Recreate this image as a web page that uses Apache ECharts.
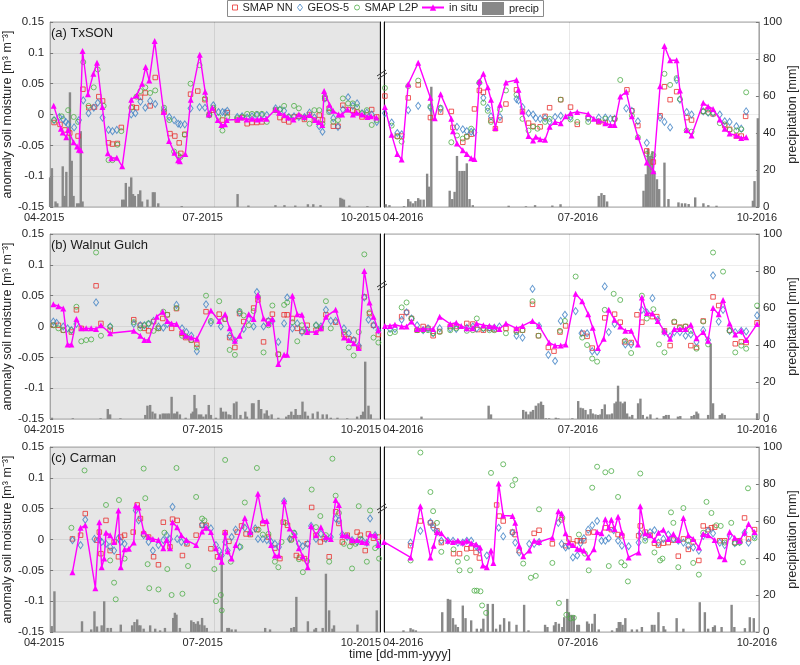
<!DOCTYPE html>
<html><head><meta charset="utf-8">
<script src="https://cdn.jsdelivr.net/npm/echarts@6/dist/echarts.min.js"></script>
<style>html,body{margin:0;padding:0;background:#fff}#c{width:800px;height:665px}</style>
</head><body><div id="c"></div>
<script>
// ---------- x tick labels (days since 1 April of each year) ----------
const xLabL = ['04-2015','07-2015','10-2015'];
const xLabR = ['04-2016','07-2016','10-2016'];
const xLabPosL = [0, 84.7, 172.4];
const xLabPosR = [-0.4, 95.6, 193.9];
const julyDay = 91;
const panelNames = ['(a) TxSON','(b) Walnut Gulch','(c) Carman'];

// ---------- Panel (a) TxSON, 2015 ----------
const aL_insitu = [[2,0.014],[6,-0.023],[7,-0.029],[9,-0.037],[10,-0.025],[13,-0.045],[15,-0.052],[16,-0.057],[17,-0.058],[18,0.103],[21,0.033],[24,0.066],[26,0.084],[29,0.012],[32,-0.063],[34,-0.071],[37,-0.07],[40,-0.084],[45,0.024],[48,0.031],[51,0.05],[53,0.077],[55,0.055],[58,0.119],[63,0.004],[66,-0.043],[69,-0.062],[71,-0.074],[72,-0.076],[75,-0.064],[78,0.024],[83,0.097],[86,0.037],[88,0],[90,0.011],[93,-0.009],[95,-0.017],[97,-0.016],[98,-0.009],[104,-0.008],[106,-0.005],[109,-0.008],[112,-0.007],[115,-0.008],[117,-0.007],[120,-0.007],[125,0.008],[127,0.003],[130,-0.001],[132,-0.005],[135,-0.008],[138,0],[141,-0.004],[144,-0.001],[147,-0.009],[149,-0.012],[151,-0.017],[152,0.038],[155,0.016],[157,0.006],[160,0],[162,0],[165,0.008],[168,0],[170,0.003],[173,0],[176,-0.004],[178,-0.003],[181,-0.005]];
const aL_nn = [[2.2,-0.013],[5.5,-0.016],[8.2,-0.025],[10.9,-0.03],[15.5,-0.035],[18.2,0.041],[21.5,0.011],[24.6,0.012],[27,0.029],[29.1,0.022],[32.4,-0.046],[34.6,-0.048],[37.3,-0.047],[39.5,-0.021],[45.6,0.012],[47.9,0.011],[50.1,0.028],[52.8,0.035],[55.5,0.014],[58.3,0.06],[63.2,0.004],[66.5,-0.031],[69.2,-0.035],[71.6,-0.046],[72.5,-0.063],[74.7,-0.032],[77.9,0.033],[81.9,0.038],[85.9,0.024],[88.3,0],[90.5,0.007],[95.6,-0.009],[98.3,0.003],[103.8,-0.009],[106.5,-0.005],[109.3,-0.015],[112,-0.013],[114.7,-0.013],[117.5,-0.012],[125.1,0.007],[127.5,-0.005],[129.8,-0.009],[132.4,-0.012],[135.3,-0.004],[138,-0.003],[141.1,-0.008],[143.9,0],[146.6,-0.009],[149.3,-0.001],[151.1,-0.009],[152.4,0.026],[154.8,0.01],[157.1,-0.019],[159.7,-0.019],[162.4,0.015],[165.3,0.008],[167.9,0.007],[170.3,0.004],[173,-0.004],[175.7,-0.001],[178.4,0.008],[181.2,-0.004]];
const aL_geos = [[2.2,-0.009],[5.1,-0.004],[7.3,-0.008],[8.7,-0.012],[10,-0.016],[13.3,-0.021],[16,-0.009],[18.4,0.023],[21.3,0.002],[24.2,0.011],[26.4,0.019],[29.1,-0.005],[32.4,-0.025],[34.6,-0.027],[37,-0.025],[45,0],[47.3,0.002],[50.1,0.021],[52.8,0.011],[55.5,0.022],[58.3,0.017],[63.2,0.007],[66.1,-0.004],[68.8,-0.009],[71,-0.015],[72.3,-0.016],[74.7,-0.016],[77.9,0.01],[82.9,0.012],[85.9,0.011],[88.3,0],[90.5,0.015],[93.4,0.004],[95.6,0.004],[97.1,0.003],[98.3,0.006],[103.8,-0.004],[106.5,-0.003],[109.3,-0.005],[112,-0.003],[114.7,-0.001],[117.5,-0.001],[120.2,-0.001],[125.1,0.01],[127.5,0.008],[129.8,0.006],[132.4,-0.004],[135.3,-0.003],[138,-0.004],[141.1,-0.004],[143.9,0.003],[146.6,-0.005],[149.3,-0.019],[151.1,-0.028],[152.4,0.026],[154.8,0.007],[157.1,-0.006],[159.7,-0.02],[162.4,0.008],[165.3,0.028],[167.9,0.014],[170.3,0.018],[173,0.002],[175.7,0.003],[178.4,0],[181.2,-0.012]];
const aL_l2p = [[2.2,-0.009],[6.4,-0.003],[10,0.007],[13.1,-0.004],[15.5,-0.012],[18.4,0.085],[21.3,0.014],[24.2,0.044],[26.4,0.073],[29.7,0.014],[32.4,-0.074],[34.6,-0.074],[37.3,-0.049],[39.5,-0.027],[45,0.011],[47.9,0.029],[50.1,0.038],[52.8,0.044],[55.5,0.035],[58.3,0.039],[63.2,0.011],[66.1,-0.009],[68.8,-0.06],[71,-0.066],[72.3,-0.069],[74.7,-0.033],[77.9,0.05],[82.9,0.08],[85.9,0.026],[88.3,-0.001],[90.5,0.011],[93.4,-0.004],[95.6,-0.026],[98.3,-0.004],[103.8,-0.006],[106.5,-0.004],[109.3,0.001],[112,0.001],[114.7,0.001],[117.5,0.001],[120.2,-0.012],[125.1,0.007],[127.5,0.008],[129.8,0.014],[132.4,-0.004],[135.3,0.014],[138,0.01],[141.1,-0.005],[143.9,-0.015],[146.6,0.007],[149.3,0.007],[151.1,-0.015],[152.4,0.029],[154.8,0.004],[157.1,-0.012],[159.7,-0.009],[162.4,0.026],[165.3,0.018],[167.9,0.018],[170.3,0.012],[173,0.002],[175.7,0.007],[178.4,-0.017],[181.2,-0.009]];
const aL_precip = [[0,16],[1,21],[3,3],[4,2],[7,22],[8,6],[9,19],[11,62],[12,25],[13,6],[15,2],[16,2],[17,41],[18,3],[40,4],[41,4],[42,13],[44,11],[45,16],[46,7],[47,6],[49,7],[50,9],[51,3],[54,4],[57,8],[58,8],[60,2],[73,0.5],[104,7],[110,0.8],[125,1],[130,1],[136,0.8],[143,1.5],[146,1.5],[150,1],[161,5],[162,4.5],[163,4],[166,0.8],[176,0.5]];

// ---------- Panel (a) TxSON, 2016 ----------
const aR_insitu = [[-10.5,0.012],[-6.8,-0.033],[-3.7,-0.064],[-1.3,-0.073],[2.3,0.049],[7.8,0.084],[14.5,0.027],[16.9,-0.006],[20.1,0.033],[26,-0.007],[26.9,-0.027],[29.1,-0.047],[32.3,-0.058],[34.5,-0.064],[36.9,-0.071],[38.7,-0.072],[41.4,0.054],[43.6,0.066],[46,0.044],[47.8,0.024],[50.2,-0.022],[52.7,0.016],[56,0.052],[61.8,0.056],[62.9,0.04],[65.1,0.005],[68.4,-0.035],[70.9,-0.042],[72.4,-0.036],[74.8,-0.04],[77.5,-0.041],[80,-0.02],[83,-0.012],[86.1,-0.014],[88.8,-0.003],[91.5,0.002],[95.2,0.004],[101.2,0.001],[104.3,-0.007],[107,-0.01],[110.6,-0.014],[113.4,-0.017],[115.7,-0.017],[118.8,0.029],[122.1,0.037],[125.2,-0.003],[128.5,-0.036],[133.4,-0.078],[137,-0.092],[140.7,0.046],[143.1,0.111],[146.2,0.088],[149.8,0.088],[151.6,0.039],[155.3,-0.025],[158,-0.034],[164.4,0.019],[167.1,0.013],[169.8,0.009],[173.5,-0.008],[176.2,-0.023],[178.9,-0.031],[182.6,-0.034],[185.3,-0.038],[188,-0.037]];
const aR_nn = [[-10.5,0.03],[-3.7,-0.035],[-1.3,-0.035],[2.3,0.027],[7.8,0.048],[14.5,-0.005],[20.1,0.004],[26,0.005],[26.9,-0.021],[32.3,-0.045],[34.5,-0.036],[36.9,-0.032],[38.7,0.009],[41.4,0.039],[43.6,0.036],[47.8,-0.009],[50.2,-0.023],[52.7,-0.009],[56,0.017],[61.8,0.04],[65.1,0.005],[68.4,-0.014],[70.9,-0.019],[74.8,-0.02],[77.5,-0.003],[80,0.011],[86.1,0.024],[91.5,0.012],[95.2,-0.016],[101.2,-0.005],[107,-0.012],[110.6,-0.013],[115.7,-0.007],[122.5,0.04],[125.2,0.006],[128.5,-0.018],[133.4,-0.059],[137,-0.077],[140.7,-0.002],[143.1,0.045],[146.2,0.024],[149.8,0.037],[155.3,-0.005],[158,-0.009],[164.4,0.005],[167.1,0.008],[169.8,0.001],[176.2,-0.018],[178.9,-0.024],[182.6,-0.035],[185.3,-0.035],[187.7,-0.003]];
const aR_geos = [[-10.5,0.002],[-6.8,-0.013],[-3.7,-0.03],[-1.3,-0.032],[2.3,0.007],[7.8,0.014],[14.5,0.011],[20.1,0.009],[29.1,-0.02],[32.3,-0.024],[34.5,-0.027],[36.9,-0.028],[38.7,-0.029],[41.4,0.051],[43.6,0.027],[46,0.011],[47.8,-0.003],[52.7,-0.004],[61.8,0.025],[62.9,0.023],[65.1,0.012],[68.4,0.002],[70.9,0],[72.4,-0.006],[74.8,-0.007],[77.5,-0.006],[80,-0.012],[83,-0.004],[86.1,-0.002],[91.5,-0.004],[101.2,-0.006],[107,-0.005],[110.6,-0.005],[113.4,-0.007],[115.7,-0.007],[122.1,0.01],[125.2,0.006],[128.5,-0.011],[133.4,-0.046],[140.7,-0.005],[143.1,-0.012],[146.2,-0.021],[149.8,0.056],[151.6,0.024],[155.3,0.004],[158,0],[164.4,0.005],[167.1,0.003],[169.8,0.002],[173.5,0],[176.2,-0.011],[178.9,-0.012],[182.6,-0.019],[185.3,-0.023],[188,0.005]];
const aR_l2p = [[-10.5,0.043],[-6.8,-0.018],[-3.7,-0.036],[-1.3,-0.044],[2.3,0.046],[7.8,0.055],[14.5,0.013],[20.1,0.011],[26,-0.045],[29.1,-0.034],[32.3,-0.039],[34.5,-0.036],[36.9,-0.023],[41.4,0.052],[43.6,0.019],[46,0.006],[47.8,-0.012],[52.7,0.008],[56,0.039],[61.8,0.032],[65.1,-0.007],[68.4,-0.026],[70.9,-0.02],[73.3,-0.023],[77.5,-0.012],[80,-0.007],[86.1,0.024],[91.5,-0.008],[95.2,-0.012],[101.2,-0.012],[107,-0.011],[110.6,-0.007],[115.7,-0.007],[118.8,0.056],[125.2,-0.002],[128.5,-0.037],[133.4,-0.064],[137,-0.066],[143.1,0.066],[146.2,0.048],[149.8,0.059],[151.6,0.025],[155.3,-0.026],[158,-0.028],[164.4,0.005],[167.1,0.003],[169.8,0.003],[173.5,-0.014],[176.2,-0.016],[178.9,-0.025],[182.6,-0.026],[185.3,-0.024],[188,0.036]];
const aR_precip = [[-10,1.5],[-8,1],[0,0.5],[2.3,4.3],[3.5,3],[4.9,2],[6.3,3.2],[7.8,4.8],[9,4],[10.8,4],[12.7,18],[13.8,11],[15,65],[25.1,8.8],[26.5,4.3],[27.8,8.2],[29.1,27.6],[30.5,19.5],[32,19.5],[33.2,19.5],[34.5,23.6],[36,4.3],[37.8,1],[57.5,0.7],[67,0.4],[72,1],[81.5,0.8],[86,1.5],[107,6],[108.5,7.5],[110,6.5],[111.6,3],[131.6,8.8],[132.9,17.7],[134,31.5],[135.3,27.6],[136.5,30.2],[137.6,19.5],[139,15],[140.2,9.7],[143.1,24],[145.3,4.3],[150.8,2.5],[152.7,2],[154.5,2],[156.4,1.6],[160,5.2],[164.5,2],[167.2,1],[171.7,0.7],[191.7,3.4],[192.6,14],[194.4,48]];

// ---------- Panel (b) Walnut Gulch, 2015 ----------
const bL_insitu = [[1.8,0.036],[4.6,0.033],[7.3,0.029],[9.7,-0.029],[11.8,-0.029],[14.6,0.012],[17.3,-0.003],[20,-0.003],[22.8,-0.003],[25.5,-0.004],[28.2,0.002],[33.3,-0.011],[46.4,-0.007],[50,-0.015],[52.3,-0.022],[54.6,-0.022],[59.2,0.016],[62.5,0.024],[65,0.009],[67.4,0.005],[70.1,0.004],[73.2,-0.009],[75.2,-0.015],[78.3,-0.018],[81.4,-0.02],[89.2,0.026],[93.8,0.009],[97.1,0.02],[99.6,-0.003],[102.5,-0.023],[105.1,-0.015],[110.2,0.02],[112.9,0.012],[115.3,0.051],[118.4,0.013],[121.1,0.005],[123.3,0.012],[126.6,-0.061],[129.8,-0.046],[131.5,-0.046],[134.4,0.05],[137.1,0.02],[139.7,0.019],[142.6,-0.009],[147.5,-0.009],[150.2,-0.003],[153,0.016],[158.4,0.027],[163,-0.018],[165.7,-0.022],[168.4,-0.027],[171.2,-0.035],[174.3,0.09],[177.2,0.039],[179.4,0.016],[182.1,-0.006]];
const bL_nn = [[1.8,0.002],[4.6,0.002],[7.3,-0.006],[11.8,-0.009],[14.6,0.027],[17.3,-0.003],[25.5,0.066],[28.2,0.005],[33.3,-0.006],[46.4,0.011],[50,0.002],[52.3,-0.003],[54.6,-0.007],[57.4,0.008],[60.1,-0.003],[62.5,0.013],[65,0.019],[67.4,-0.003],[70.1,0.029],[73.2,-0.011],[75.2,-0.018],[78.3,-0.022],[81.4,-0.029],[86.5,0.024],[93.8,0.02],[97.1,0.012],[99.6,-0.018],[102.5,-0.034],[105.1,0.021],[107.4,0.008],[112.9,0.03],[115.3,0.043],[118.4,-0.025],[121.1,0.009],[123.3,0.02],[126.6,-0.045],[129.8,0.019],[131.5,0.019],[134.4,0.013],[137.1,-0.003],[139.7,-0.008],[142.6,0.002],[147.5,-0.006],[150.2,-0.003],[153,0.019],[158.4,0.007],[163,-0.013],[165.7,-0.02],[168.4,-0.022],[171.2,-0.034],[174.3,0.048],[177.2,0.021],[179.4,0.002],[182.1,-0.013]];
const bL_geos = [[1.8,0.008],[3.6,0.006],[7.3,0],[9.7,-0.003],[11.8,-0.006],[14.6,0.004],[25.5,0.039],[33.3,0],[46.4,0.004],[50,0.002],[52.3,0.002],[54.6,0.004],[57.4,0.009],[60.1,0],[62.8,-0.002],[65,0.004],[70.1,0.035],[73.2,-0.003],[75.6,-0.009],[78.3,-0.015],[81.4,-0.04],[86.5,0.036],[89.2,0.006],[94.7,0],[99.6,-0.015],[102.5,-0.023],[105.1,0.023],[107.4,-0.004],[110.2,0.012],[112.9,0],[114.7,0.056],[118.4,0],[121.1,0.009],[123.3,0.009],[126.6,-0.025],[129.8,0.005],[131.5,0.047],[134.4,-0.003],[137.1,0.005],[139.7,-0.009],[142.6,-0.006],[147.5,0.002],[150.2,0],[153,0.027],[155.7,0.009],[158.4,0.009],[163,-0.003],[165.7,-0.011],[168.4,-0.022],[171.2,-0.031],[174.3,0.047],[176.6,0.011],[179.4,0.002],[182.1,-0.006]];
const bL_l2p = [[1.8,0.002],[4.6,-0.003],[7.3,-0.006],[11.8,-0.006],[14.6,0.032],[17.3,-0.024],[20,-0.022],[22.8,-0.021],[25.5,0.12],[28.2,-0.015],[33.3,0],[46.4,0.007],[50,-0.003],[52.3,0.002],[54.6,0.005],[57.4,-0.007],[60.1,-0.003],[62.8,0.024],[65,0.019],[70.1,0.03],[73.2,-0.015],[75.2,-0.016],[78.3,-0.022],[81.4,-0.034],[86.5,0.05],[89.2,0.009],[93.8,0.041],[97.1,0.012],[99.6,-0.038],[102.5,-0.046],[105.1,0.025],[107.4,0.018],[110.2,0.002],[112.9,0.025],[115.3,0.048],[118.4,-0.042],[121.1,0.002],[123.3,0.034],[126.6,-0.045],[129.8,0.035],[131.5,0.039],[134.4,0.007],[137.1,-0.024],[139.7,0.002],[142.6,-0.009],[147.5,0.002],[150.2,-0.003],[153,0.041],[155.7,-0.003],[163,-0.009],[165.7,-0.034],[168.4,-0.047],[171.2,-0.009],[174.3,0.117],[177.2,0.023],[179.4,-0.018],[182.1,-0.026]];
const bL_precip = [[1,0.7],[12.6,0.4],[28,0.4],[32,5.4],[33.3,2.5],[39,0.4],[52.8,2.2],[54,7.2],[55.5,7.6],[56.8,4],[58.3,3],[61,2.5],[62.5,3],[63.7,3],[65,3],[66.1,3],[67.4,12],[68.6,3],[69.7,3],[70.5,4],[72,2.5],[75.2,0.7],[78.3,3],[79.2,4],[80.1,13],[81,5.8],[82.5,2.5],[83.8,2.5],[85,1.3],[86.5,2.5],[88,7.6],[89.2,2.2],[92,0.7],[94.7,6.1],[96,4],[97.5,4],[99,2.5],[100,2.2],[102,8.5],[103.4,9.4],[105.6,2.2],[108.3,4],[109.2,1.3],[112,8.5],[112.9,8.5],[115.7,10.3],[117.1,5.4],[119,3],[120.2,4.7],[121.1,1.8],[122.9,2.5],[126.6,0.7],[131,1.3],[132.3,2.2],[133.8,4],[135.2,2.2],[136.2,5.4],[137.3,2.2],[138.8,2.2],[140,9.4],[141.5,4],[143,1.8],[145.7,3],[148.4,4],[151.2,2.5],[153.5,2.5],[155.7,0.7],[159.4,0.7],[164.8,0.4],[170.3,1.3],[172.5,2.2],[173.6,4],[174.8,31],[176.6,7.2],[177.9,2.5]];

// ---------- Panel (b) Walnut Gulch, 2016 ----------
const bR_insitu = [[-10.5,0.001],[-7.7,0.001],[-5,0.003],[-1.3,0],[1.4,0],[4.1,0.008],[7.2,-0.004],[10.5,-0.004],[16,-0.004],[19.6,0.016],[25.4,0.004],[28.7,0.006],[31.4,0.001],[34.5,-0.003],[37.7,-0.003],[39.9,0.005],[43.6,0.002],[46.9,0.001],[49.6,0],[52.4,-0.004],[56,0.005],[61.8,-0.003],[65.1,0.001],[70.6,0.009],[74.2,0.001],[79.7,-0.026],[83,-0.031],[86.1,-0.031],[88.8,-0.029],[94.3,0.053],[97.9,0.041],[101.2,0.02],[103.7,-0.002],[106.6,-0.035],[109.7,-0.02],[112.5,0.027],[115.7,0.011],[118.8,0],[121.6,-0.007],[124.8,-0.007],[128.5,-0.029],[130.7,0.047],[133.4,0.022],[136.5,0.021],[139.4,0.009],[143.1,-0.008],[146.2,-0.02],[148.5,-0.004],[151.6,-0.004],[154.7,-0.004],[157.6,0.003],[160.7,-0.019],[164.4,-0.009],[167.1,-0.023],[169.8,0.03],[172.9,0.02],[175.3,0.043],[178.9,0.005],[182,-0.013],[185.3,-0.007],[188,-0.022],[194,0.004]];
const bR_nn = [[-1.3,0.016],[1.4,0.023],[4.1,0.013],[7.2,-0.006],[10.5,0],[13.2,-0.003],[16,-0.015],[19.6,-0.008],[25.4,0],[28.7,0],[34.5,0.005],[37.8,0.004],[40.5,-0.005],[43.6,-0.006],[46.9,-0.003],[49.6,-0.005],[56,-0.003],[61.8,-0.006],[65.1,-0.006],[70.6,0.036],[73.9,-0.015],[79.3,-0.034],[82.4,-0.04],[85.7,-0.009],[88.8,0.001],[98.3,-0.011],[100.6,-0.016],[103.4,-0.035],[110.3,0.014],[115.7,0.02],[118.8,0.007],[121.2,-0.025],[124.8,-0.026],[128,0.019],[130.7,0.007],[136.5,0.016],[138.9,0.016],[143.1,-0.007],[146.2,-0.031],[148.5,0.007],[151.6,-0.001],[154.7,0],[157.6,-0.031],[160.7,-0.034],[164.4,0.009],[169.8,0.048],[172.9,0.034],[178.9,-0.006],[182,-0.028],[185.3,-0.025],[188,-0.026],[194,0.006]];
const bR_geos = [[-7.7,-0.004],[-5,-0.004],[-1.3,0.011],[1.4,0.023],[4.1,0.013],[7.2,0.002],[10.5,-0.006],[13.2,-0.003],[16,-0.011],[19.6,-0.003],[25.4,-0.003],[28.7,-0.004],[34.5,-0.002],[37.8,0],[40,-0.003],[43.6,-0.003],[46.9,-0.002],[49.6,-0.002],[52.4,0],[61.8,-0.015],[65.1,-0.018],[70.6,0.061],[74.2,0.001],[79.3,-0.046],[83,-0.056],[86.1,0.009],[88.4,0.019],[94.3,0.025],[97.5,-0.011],[100.6,-0.011],[103.4,-0.04],[106.1,-0.041],[110.3,0.065],[112.5,-0.009],[115.7,0.004],[121.6,-0.029],[124.8,-0.029],[130.7,0.027],[133.4,0.023],[136.5,0.046],[139.4,0.011],[143.1,-0.009],[146.2,-0.016],[148.5,-0.009],[151.6,-0.009],[154.7,-0.015],[157.6,-0.013],[160.7,-0.025],[164.4,-0.006],[167.1,-0.022],[169.8,0.083],[172.9,0.008],[175.3,0.027],[178.9,-0.007],[182,-0.009],[185.3,-0.007],[188,-0.008],[194,0.018]];
const bR_l2p = [[-7.7,-0.011],[-5,-0.009],[-1.3,0.031],[1.4,0.039],[4.1,0.013],[7.2,-0.006],[10.5,-0.006],[13.2,-0.006],[16,-0.011],[19.6,-0.009],[25.4,-0.006],[28.7,-0.003],[34.5,-0.007],[37.8,-0.006],[40,0.013],[43.6,-0.003],[46.9,-0.006],[49.6,-0.006],[56,-0.011],[61.8,-0.009],[65.1,-0.006],[70.6,0.041],[73.9,-0.015],[85.7,-0.007],[88.4,0.009],[94.3,0.081],[97.9,-0.018],[100.6,-0.03],[103.4,-0.052],[106.1,-0.057],[110.3,0.027],[115.2,0.053],[118.8,0.043],[121.6,-0.023],[124.8,-0.043],[130.7,0.05],[133.4,0.013],[137,0.028],[140.1,-0.029],[143.1,-0.042],[148.5,0.008],[151.6,-0.002],[154.7,0],[157.6,-0.007],[160.7,-0.036],[164.4,0.008],[167.1,-0.029],[169.8,0.12],[175.3,0.089],[178.9,-0.007],[182,-0.042],[185.3,-0.031],[188,-0.036],[194,0.034]];
const bR_precip = [[9.6,1.3],[46.5,7.2],[47.8,2.5],[65.5,4.9],[67,4],[68.4,2.5],[69.6,4],[70.9,4.9],[72.4,7.2],[73.9,8.5],[75.3,9.4],[76.4,7.6],[77.9,0.4],[79.7,0.4],[83.4,0.7],[84.8,0.4],[92.5,0.4],[95.7,9.7],[97,6.1],[98.3,5.8],[99.7,4.9],[101.2,2.5],[102.5,5.4],[103.7,3],[105.2,2.5],[106.6,2.2],[107.9,2.5],[108.8,5.4],[110.3,7.9],[111.6,2.5],[112.9,2.5],[114.3,3],[115.7,8.5],[116.7,9.4],[117.6,18],[118.9,9.4],[120.2,8.5],[121.3,9.4],[122.6,3],[123.9,1.3],[125.4,2.2],[128.6,8.5],[129.9,11],[131.2,2.2],[133.6,1.3],[135.4,2.5],[139,0.7],[142.7,1.6],[144,2.2],[145.4,2.2],[150.5,1.3],[151.8,1.6],[158,1.6],[159.4,2.2],[160.7,4],[161.6,3],[167.1,2.2],[168.5,40.9],[169.8,8.5],[173.5,2.2],[174.8,3],[176.2,2.2],[194,3.1]];

// ---------- Panel (c) Carman, 2015 ----------
const cL_insitu = [[12.4,-0.053],[16.9,0.019],[19.5,0.023],[25.1,-0.079],[27.3,0.028],[28.6,-0.045],[30,-0.031],[31,0.011],[33.3,0.007],[35.5,-0.004],[37.9,0.047],[39.2,-0.045],[41.3,-0.016],[43.7,-0.015],[46.4,-0.005],[47.5,0.055],[49.1,0.052],[51.9,0.013],[54.6,0.004],[57,0.001],[60.1,-0.001],[62.8,-0.014],[64.6,-0.001],[66.5,-0.014],[67.9,0.028],[70.5,0.02],[72.8,0.007],[75.6,-0.001],[81,-0.009],[84.3,0.013],[86.5,0.019],[89.2,0.012],[92,-0.014],[93.8,-0.028],[95.2,-0.036],[97.1,0.012],[98.5,-0.019],[100.7,-0.031],[102.9,-0.009],[108,0.035],[111,0.012],[115.3,0.074],[118,0.031],[120.2,0.03],[122.6,-0.009],[124.7,-0.026],[126.9,-0.026],[129.8,0.062],[132.9,0.018],[135.7,0.007],[138,-0.014],[140.2,-0.027],[142.9,-0.045],[144.8,0.022],[147.5,0.007],[150.2,0.02],[153,0.004],[155.7,0.001],[158.4,0.064],[160.2,0.056],[162.1,0.007],[164.8,0.006],[167.5,-0.001],[170.3,-0.001],[173,-0.004],[175.7,-0.005],[177.5,0.008],[180.3,0.007],[182.1,-0.009]];
const cL_nn = [[12.4,0.001],[16.9,0.007],[19.5,0.042],[26,-0.001],[27.3,0.012],[28.2,-0.023],[31,0.031],[33.3,-0.018],[35.5,-0.004],[37.9,-0.028],[39.2,0.004],[41.3,0.007],[46.1,0.012],[48.3,0.056],[50.1,0.034],[51.9,0.009],[54.6,0.004],[57.4,-0.028],[60.1,-0.041],[62.8,0.028],[66.5,-0.012],[67.9,0.033],[70.5,0.031],[73.4,-0.026],[75.9,-0.007],[81,0.007],[84.3,0.023],[86.5,0.023],[89.2,-0.015],[92.9,-0.028],[97.1,0.011],[99.2,-0.003],[103.8,0.012],[106.2,0.022],[108.7,0.009],[111.1,0.008],[114.7,0.016],[118,0.026],[121.1,0.004],[124.7,-0.014],[127.5,-0.031],[129.3,0.028],[131.7,0.023],[133.8,0.001],[136.6,-0.026],[138.4,-0.029],[141.1,-0.031],[142.6,-0.007],[145.1,0.052],[147.5,0.007],[149.9,-0.004],[152.1,0.001],[154.8,-0.028],[158.4,0.045],[160.2,0.026],[162.1,-0.004],[164.8,0.007],[167.5,-0.004],[170.3,0.012],[172.1,0.007],[174.8,-0.018],[176.6,0.009],[179.4,0.002],[182.1,0.004]];
const cL_geos = [[12.4,-0.001],[16.9,-0.009],[19.5,0.032],[24.6,0.001],[27.3,0],[28.6,-0.004],[31,-0.007],[33.3,-0.012],[35.5,-0.018],[37.9,0.002],[39.2,-0.004],[41.3,-0.007],[47.5,0.047],[49.1,0.031],[51.9,0.007],[54.6,-0.004],[57,-0.018],[60.1,-0.009],[62.8,-0.001],[64.6,0.007],[66.5,0.001],[67.9,0.053],[70.5,0.001],[72.8,-0.004],[75.6,-0.004],[84.3,0.024],[86.5,0.02],[89.2,0.018],[92,-0.009],[93.8,-0.018],[95.2,-0.026],[97.1,-0.004],[98.5,-0.018],[100.7,0.004],[102.9,0.016],[105.1,-0.012],[108,0.019],[111,0.011],[113.8,0.018],[115.3,0.001],[118,0.001],[120.2,-0.001],[122.6,-0.004],[124.7,-0.007],[126.9,-0.012],[129.8,0.062],[132.9,0.001],[135.7,0.009],[138,-0.007],[140.2,-0.011],[142.9,-0.007],[144.8,0.022],[147.5,0.001],[150.2,0.009],[153,0.001],[155.7,0.004],[158.4,0.034],[160.2,0.031],[162.1,0.008],[164.8,0.004],[167.5,-0.001],[170.3,-0.004],[173,-0.001],[175.7,-0.005],[177.5,0.034],[180.3,0.007],[182.1,-0.009]];
const cL_l2p = [[11.8,0.019],[19.1,0.112],[31,0.056],[33.3,-0.034],[35.5,-0.07],[36.4,-0.097],[38.2,0.064],[41.3,-0.031],[51.9,0.115],[52.8,0.067],[54.1,-0.04],[55,-0.079],[60.1,-0.081],[63.4,0.011],[65,-0.048],[67.4,-0.09],[70.1,0.116],[73.4,-0.088],[76.5,-0.043],[81,0.069],[84.3,0.034],[85.6,0.031],[91.1,-0.048],[92,-0.1],[94.7,-0.09],[95.2,-0.115],[97.1,0.129],[100.2,-0.036],[105.6,-0.012],[108,0.06],[114.7,0.116],[115.6,0.016],[118,0.008],[121.1,0.009],[124.7,-0.036],[126.6,-0.045],[128.4,-0.004],[130.7,0.027],[133.8,-0.001],[135.3,0.011],[138,-0.032],[140.2,-0.053],[142.6,-0.035],[145.1,0.081],[147.5,0.02],[149.9,0.038],[153,0.007],[154.8,-0.036],[156.6,0.131],[158.4,0.071],[160.2,0.043],[163,-0.007],[166.3,-0.011],[167.5,-0.047],[169.4,-0.007],[171.2,0.054],[172.1,0.001],[175.7,-0.036],[177.5,0.047],[180.3,-0.014],[182.5,-0.031]];
const cL_precip = [[0.9,3.2],[2.4,22],[17.7,5.8],[22.8,1.4],[24.6,11.2],[26,3],[28.6,3.6],[30,16.6],[31.9,2.2],[33.7,2.2],[39.2,4],[45.5,3.6],[46.8,5.4],[48.3,6.8],[49.2,3.6],[50.1,3.6],[51.9,1.8],[55.5,3.6],[58.3,1.8],[61,0.9],[63.7,2.2],[68.3,7.6],[69.2,10.4],[70.1,9.4],[72,2.2],[78.3,6.3],[79.6,5.4],[80.7,4.5],[82,5.8],[82.9,4],[84.3,7.6],[85.6,3.6],[86.9,2.2],[95.2,42],[98.3,2.2],[99.2,2.2],[100.7,1.4],[102.9,1.4],[119.3,2.2],[122,1.4],[133.8,2.2],[135.3,2.7],[136.6,19],[143,5.8],[146.6,1.4],[147.5,2.2],[151.2,2.2],[153,31.5],[154.8,11.7],[156.6,1.8],[157.5,3.6],[170.5,4],[181.2,11.7]];

// ---------- Panel (c) Carman, 2016 ----------
const cR_insitu = [[-11,-0.004],[3.6,-0.029],[9,0.054],[14.5,-0.029],[16.3,-0.01],[18.1,0.012],[20.5,0.01],[24.1,-0.002],[26.9,-0.004],[29.6,-0.002],[32.3,-0.005],[34.5,-0.002],[36.9,-0.006],[39.6,-0.008],[41.8,-0.013],[43.3,-0.042],[45.5,-0.045],[47.8,-0.018],[49.1,-0.038],[52,0.091],[54.5,0.039],[59.6,0.038],[61.1,0.027],[63.3,-0.01],[65.5,-0.027],[68.8,-0.018],[71.5,-0.002],[74.2,-0.004],[81.5,0.003],[84.8,0.046],[86.6,0.042],[88.8,0.01],[90.6,-0.005],[92.8,-0.009],[95.2,-0.015],[96.9,-0.016],[98.8,-0.018],[101.2,-0.029],[104.3,-0.016],[106.1,0.012],[108.5,0.01],[110.6,0.033],[112.5,0.019],[113.9,0.032],[115.7,0.017],[117.6,0.037],[119.7,0.011],[123.4,-0.029],[128.9,-0.021],[129.8,0.054],[132.5,0.01],[135.2,0.007],[137.6,-0.001],[139.8,0.011],[142.5,0.016],[145.2,0.001],[148,0.009],[150.7,-0.001],[153.5,0.035],[156.2,0.007],[158.9,0.001],[162,-0.013],[164.4,0.009],[167.1,0.007],[170.7,-0.001],[173.5,-0.027],[176.2,-0.032],[178.9,0.012],[181.7,0.003],[184.4,-0.002],[187.1,0.011],[189.3,0.025],[192.6,0.012]];
const cR_nn = [[3.6,-0.01],[9,0.03],[14.5,0.027],[16,0.023],[18.1,0.014],[20.5,-0.005],[27.2,-0.023],[30.5,-0.023],[34.5,-0.015],[36.9,-0.014],[39.6,-0.021],[41.4,-0.03],[50.9,0.056],[52.4,0.038],[54.5,0.03],[59.6,0.012],[61.1,0.008],[63.3,-0.018],[71.5,0.01],[74.2,0.015],[81.5,-0.007],[86.6,0.032],[88.8,-0.01],[90.6,0.001],[92.8,-0.007],[95.2,-0.002],[97,-0.002],[98.8,-0.002],[101.2,0.011],[104.3,0.012],[110.6,0.019],[113.9,0.016],[117.6,0.008],[119.7,0.006],[128.9,0.006],[129.8,0.022],[132.5,0.012],[135.2,0.007],[137.6,-0.006],[139.8,-0.009],[142.5,-0.006],[145.2,-0.005],[148,-0.001],[150.7,-0.027],[153.5,0.001],[156.2,-0.016],[158.9,-0.004],[162,-0.034],[164.4,0.022],[167.1,0.016],[168.9,0.019],[170.7,0.02],[173.5,-0.002],[176.2,-0.002],[181.7,-0.005],[184.4,-0.002],[187.1,0.035],[189.3,0.001],[192.6,0.016]];
const cR_geos = [[3.6,-0.005],[9,0.014],[14.5,0.028],[16,0.019],[18.1,0.012],[20.5,-0.002],[24.1,-0.002],[26.9,-0.002],[29.6,-0.005],[32.3,-0.005],[34.5,-0.002],[36.9,-0.002],[39.6,-0.011],[41.4,-0.016],[45.5,-0.026],[52,0.019],[54.5,0.005],[59.6,0.011],[61.1,-0.005],[63.3,-0.021],[68.8,-0.007],[71.5,-0.007],[74.2,-0.004],[84.8,0.027],[86.6,-0.007],[88.8,-0.013],[90.6,-0.01],[92.8,-0.029],[95.2,-0.026],[97,-0.006],[98.8,0.002],[101.2,0.016],[103.4,0.023],[106.1,0.03],[108.5,-0.002],[110.6,-0.002],[112.5,0.002],[115.2,0.015],[117.6,-0.002],[119.7,-0.01],[123.4,-0.011],[128.9,-0.005],[129.8,0.01],[132.5,0.003],[135.2,0.012],[137.6,0.015],[139.8,-0.005],[142.5,0.001],[145.2,0.008],[148,0.001],[150.7,-0.002],[153.5,-0.005],[156.2,-0.01],[158.9,-0.013],[162,-0.018],[164.4,0.006],[167.1,0.014],[169.8,0.01],[173.5,-0.005],[176.2,-0.009],[178.9,0.006],[181.7,-0.006],[184.4,-0.004],[187.1,0.011],[189.3,-0.005],[192.6,0.006]];
const cR_l2p = [[3.6,-0.034],[9,0.141],[14.5,0.077],[16,0.046],[18.1,0.027],[20.5,-0.02],[27.2,-0.016],[29.6,-0.036],[30.5,-0.05],[34.5,-0.03],[36.3,-0.05],[38.7,-0.083],[40,-0.083],[42,-0.084],[42.9,-0.107],[45.1,-0.119],[47.8,0.108],[54.5,0.122],[59.6,0.088],[61.1,0.097],[65.5,-0.039],[69.7,-0.062],[72.4,-0.059],[74.2,0.049],[81.5,-0.038],[85.1,-0.103],[87,0.035],[89.2,-0.122],[91.5,-0.128],[93.3,-0.127],[96.1,0.008],[99.4,-0.023],[101.5,-0.05],[103.4,0.084],[106.1,0.118],[110.6,0.109],[112.5,-0.043],[113.9,0.111],[117.6,0.069],[119.4,-0.037],[121.2,-0.042],[123,-0.068],[129.8,0.107],[132.5,-0.002],[137.6,-0.021],[140.7,-0.034],[142,-0.031],[146.7,0.044],[148,0.027],[150.7,-0.045],[153.5,0.051],[156.2,-0.002],[158.9,-0.038],[162,-0.057],[164.4,0.011],[166.2,0.061],[168.9,0.043],[171.6,0.023],[174,0.022],[176.2,-0.005],[179.8,0.027],[182,-0.006],[184.4,-0.005],[186.2,-0.037],[189,0.083],[192.6,0.002]];
const cR_precip = [[-0.3,0.9],[3.6,2.1],[5,1.4],[6.5,0.9],[21,10.7],[24.1,17.9],[25.4,17.5],[26.9,7.5],[28.3,4],[29.6,2.7],[32.3,14.3],[33.8,7.5],[36.9,6.3],[40,1.8],[42.4,1.8],[43.6,7.2],[46,15.2],[48.8,15.2],[50.6,1.8],[52.8,4],[55,7.5],[57.8,5.7],[61.8,3.9],[66,14.7],[68.4,0.9],[77.5,3.9],[78.8,2.7],[82.4,3.6],[83.3,5.4],[85.1,4.5],[87,2.7],[88,8],[89.7,17.9],[90.6,10.7],[92,9.3],[93.3,9],[95.2,3.9],[96.1,3.9],[100.6,5.7],[101.5,4.5],[103.4,4.5],[104.8,9.8],[107,1.4],[114.3,0.9],[117,2.1],[118,5.4],[118.9,5.4],[120.1,3.9],[121.6,7.5],[125.2,1.4],[128,1.4],[130.7,2.7],[136.2,3.9],[137.6,3.9],[139.8,10.7],[142.6,3.2],[143.5,1.4],[149.8,7.5],[153.5,1.8],[162.5,16.1],[165.3,10.7],[167.1,1.8],[169.8,2.7],[170.8,3.6],[174.5,2.7],[180,14.7],[181.5,2.7],[187.3,2.1],[190,8],[192.2,7.5]];

// ---------- chart build ----------
const FONT = "'Liberation Sans', Arial, Helvetica, sans-serif";
const TXT = '#262626';
const RED = '#e8302e', BLUE = '#3c7fc4', GREEN = '#4fae48', MAG = '#ff00ff', GREY = '#888888';
const FS = 11;
const tops = [22, 234, 447];
const H = 185;
const brkY = [74, 285, 508];

const halves = [
  {ins:aL_insitu, nn:aL_nn, ge:aL_geos, l2:aL_l2p, pr:aL_precip},
  {ins:aR_insitu, nn:aR_nn, ge:aR_geos, l2:aR_l2p, pr:aR_precip},
  {ins:bL_insitu, nn:bL_nn, ge:bL_geos, l2:bL_l2p, pr:bL_precip},
  {ins:bR_insitu, nn:bR_nn, ge:bR_geos, l2:bR_l2p, pr:bR_precip},
  {ins:cL_insitu, nn:cL_nn, ge:cL_geos, l2:cL_l2p, pr:cL_precip},
  {ins:cR_insitu, nn:cR_nn, ge:cR_geos, l2:cR_l2p, pr:cR_precip}
];

const grid = [], xAxis = [], yAxis = [], series = [];
const soilFmt = v => String(+v.toFixed(2));
halves.forEach((h, g) => {
  const p = Math.floor(g / 2), right = g % 2 === 1;
  grid.push({left: right ? 384 : 45, width: right ? 377 : 335, top: tops[p], height: H,
    show: true, backgroundColor: right ? '#ffffff' : '#e6e6e6', borderColor: '#a6a6a6', borderWidth: 1});
  const labs = right ? xLabR : xLabL, pos = right ? xLabPosR : xLabPosL;
  xAxis.push({type: 'value', gridIndex: g, min: right ? -11 : 0, max: right ? 195 : 183,
    axisLine: {show: false, onZero: false}, axisTick: {show: false}, splitLine: {show: false},
    axisLabel: {customValues: pos, margin: 5, fontSize: FS, color: TXT, fontFamily: FONT,
      formatter: v => { const i = pos.findIndex(q => Math.abs(q - v) < 0.01); const t = labs[i];
        return (!right && i === 0) ? '{s|' + t + '}' : t; },
      rich: {s: {padding: [0, 12, 0, 0], fontSize: FS, color: TXT, fontFamily: FONT}}}});
  // soil moisture axis (left)
  yAxis.push({type: 'value', gridIndex: g, position: 'left', min: -0.15, max: 0.15, interval: 0.05,
    name: right ? '' : 'anomaly soil moisture [m³ m⁻³]', nameLocation: 'middle', nameGap: 31,
    nameTextStyle: {fontSize: 12.5, color: TXT, fontFamily: FONT},
    axisLine: {show: true, onZero: false, lineStyle: {color: right ? '#111' : '#a6a6a6', width: 1}},
    axisTick: {show: !right, inside: true, length: 3, lineStyle: {color: '#777'}},
    axisLabel: {show: !right, formatter: soilFmt, margin: 6, fontSize: FS + 0.5, color: TXT, fontFamily: FONT},
    splitLine: {show: true, lineStyle: {color: 'rgba(0,0,0,0.07)', width: 1}}});
  // precipitation axis (right)
  yAxis.push({type: 'value', gridIndex: g, position: 'right', min: 0, max: 100, interval: 20,
    name: right ? 'precipitation [mm]' : '', nameLocation: 'middle', nameGap: 24,
    nameTextStyle: {fontSize: 12.5, color: TXT, fontFamily: FONT},
    axisLine: {show: true, onZero: false, lineStyle: {color: right ? '#a6a6a6' : '#111', width: 1}},
    axisTick: {show: right, inside: true, length: 3, lineStyle: {color: '#777'}},
    axisLabel: {show: right, margin: 4, fontSize: FS + 0.5, color: TXT, fontFamily: FONT},
    splitLine: {show: false}});
  const yS = 2 * g, yP = 2 * g + 1;
  series.push({type: 'bar', name: 'precip', data: h.pr, xAxisIndex: g, yAxisIndex: yP, barWidth: 2.4,
    itemStyle: {color: GREY}, z: 1, silent: true, animation: false,
    markLine: {silent: true, symbol: 'none', label: {show: false},
      lineStyle: {color: 'rgba(0,0,0,0.09)', type: 'solid', width: 1}, data: [{xAxis: julyDay}]}});
  series.push({type: 'scatter', name: 'SMAP NN', data: h.nn, xAxisIndex: g, yAxisIndex: yS, symbol: 'rect', symbolSize: 4.5,
    itemStyle: {color: 'rgba(0,0,0,0)', borderColor: RED, borderWidth: 1}, z: 3, silent: true, animation: false});
  series.push({type: 'scatter', name: 'GEOS-5', data: h.ge, xAxisIndex: g, yAxisIndex: yS, symbol: 'diamond', symbolSize: [5, 7],
    itemStyle: {color: 'rgba(0,0,0,0)', borderColor: BLUE, borderWidth: 1}, z: 3, silent: true, animation: false});
  series.push({type: 'scatter', name: 'SMAP L2P', data: h.l2, xAxisIndex: g, yAxisIndex: yS, symbol: 'circle', symbolSize: 5,
    itemStyle: {color: 'rgba(0,0,0,0)', borderColor: GREEN, borderWidth: 1}, z: 3, silent: true, animation: false});
  series.push({type: 'line', name: 'in situ', data: h.ins, xAxisIndex: g, yAxisIndex: yS, symbol: 'triangle', symbolSize: 6,
    showAllSymbol: true, lineStyle: {color: MAG, width: 1.4}, itemStyle: {color: MAG}, z: 4, silent: true, animation: false});
});

const legendBase = {top: 2, padding: 0, selectedMode: false, textStyle: {fontSize: FS, color: TXT, fontFamily: FONT}};
const legend = [
  Object.assign({}, legendBase, {left: 232, itemWidth: 5, itemHeight: 5,
    data: [{name: 'SMAP NN', icon: 'rect', itemStyle: {color: 'rgba(0,0,0,0)', borderColor: RED, borderWidth: 1}}]}),
  Object.assign({}, legendBase, {left: 297, itemWidth: 5, itemHeight: 7,
    data: [{name: 'GEOS-5', icon: 'diamond', itemStyle: {color: 'rgba(0,0,0,0)', borderColor: BLUE, borderWidth: 1}}]}),
  Object.assign({}, legendBase, {left: 354, itemWidth: 5, itemHeight: 5,
    data: [{name: 'SMAP L2P', icon: 'circle', itemStyle: {color: 'rgba(0,0,0,0)', borderColor: GREEN, borderWidth: 1}}]}),
  Object.assign({}, legendBase, {left: 421, itemWidth: 22, itemHeight: 8, data: ['in situ']}),
  Object.assign({}, legendBase, {left: 482, itemWidth: 22, itemHeight: 13,
    data: [{name: 'precip', icon: 'rect', itemStyle: {color: GREY}}]})
];

const title = panelNames.map((t, i) => ({text: t, left: 51, top: tops[i] + 5, padding: 0,
  textStyle: {fontSize: 13, fontWeight: 'normal', color: '#1a1a1a', fontFamily: FONT}}));
title.push({text: 'time [dd-mm-yyyy]', left: 'center', top: 648, padding: 0,
  textStyle: {fontSize: 12.5, fontWeight: 'normal', color: TXT, fontFamily: FONT}});

const graphic = [{type: 'rect', z: 0, shape: {x: 227.5, y: 0.5, width: 316, height: 16},
  style: {fill: '#ffffff', stroke: '#8a8a8a', lineWidth: 1}}];
brkY.forEach(y => {
  graphic.push({type: 'line', z: 10, shape: {x1: 377, y1: y + 2, x2: 386, y2: y - 4}, style: {stroke: '#333', lineWidth: 1}});
  graphic.push({type: 'line', z: 10, shape: {x1: 378, y1: y + 5, x2: 387, y2: y - 1}, style: {stroke: '#333', lineWidth: 1}});
});

const chart = echarts.init(document.getElementById('c'), null, {renderer: 'canvas'});
chart.setOption({animation: false, backgroundColor: '#ffffff', textStyle: {fontFamily: FONT},
  title, legend, grid, xAxis, yAxis, series, graphic});
</script></body></html>
